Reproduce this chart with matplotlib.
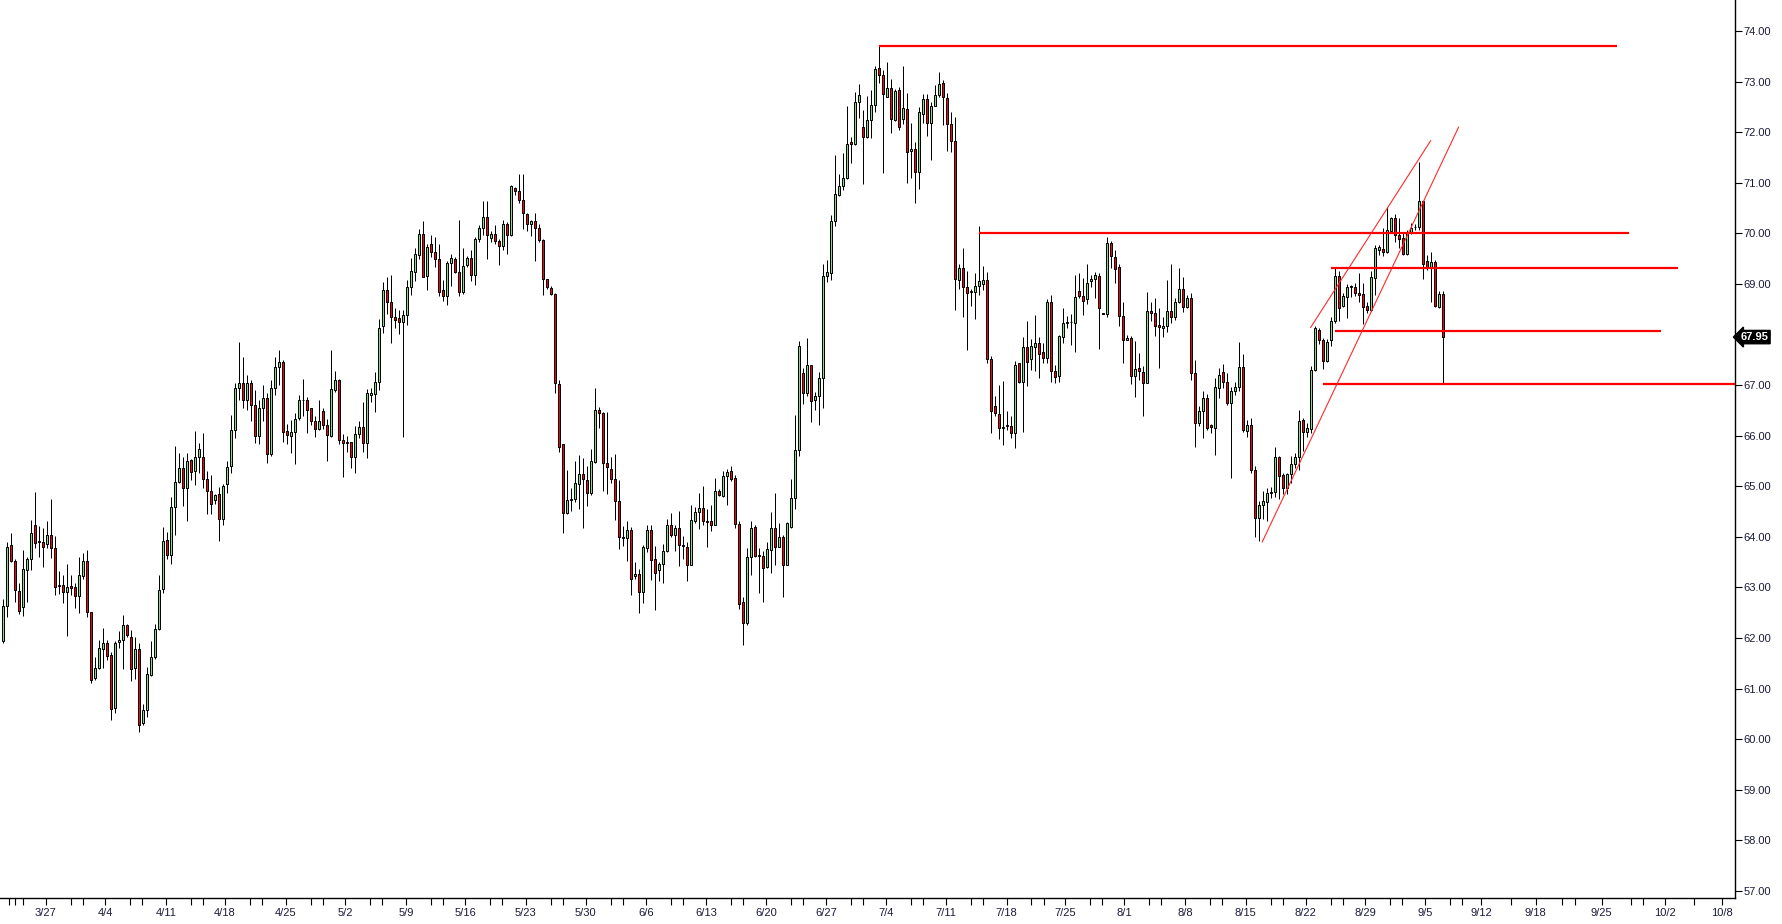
import matplotlib
matplotlib.use("Agg")
import matplotlib.pyplot as plt
import numpy as np

plt.rcParams['font.family'] = ['Liberation Sans', 'DejaVu Sans']

# 8-hour candles, oldest first
opens = [
    61.95, 62.64, 63.83, 63.53, 62.94, 62.61, 63.34, 63.56, 64.23, 63.90,
    63.89, 63.85, 64.03, 63.79, 63.02, 63.05, 62.92, 63.02, 63.00, 62.84,
    63.23, 63.52, 62.51, 61.22, 61.40, 61.79, 61.91, 61.66, 60.61, 61.93,
    61.97, 62.25, 62.03, 61.40, 61.78, 60.33, 60.57, 61.27, 61.63, 62.17,
    62.97, 63.93, 63.65, 64.60, 65.08, 65.37, 64.97, 65.52, 65.31, 65.58,
    65.57, 65.14, 64.91, 64.73, 64.84, 64.35, 65.04, 65.41, 66.11, 66.95,
    67.05, 66.70, 67.05, 66.60, 66.00, 66.55, 66.75, 65.63, 66.95, 67.35,
    67.45, 66.09, 65.99, 66.08, 66.36, 66.70, 66.70, 66.54, 66.30, 66.13,
    66.49, 66.22, 66.00, 66.90, 67.10, 65.92, 65.86, 65.87, 65.57, 66.03,
    66.17, 65.85, 66.81, 66.82, 67.07, 68.17, 68.89, 68.65, 68.35, 68.32,
    68.25, 68.39, 68.93, 69.23, 69.57, 69.99, 69.15, 69.79, 69.63, 69.49,
    68.88, 68.77, 69.41, 69.49, 69.24, 68.84, 69.37, 69.51, 69.17, 69.88,
    70.10, 70.32, 69.90, 69.99, 69.85, 69.76, 70.18, 69.96, 70.90, 70.83,
    70.66, 70.38, 70.18, 70.24, 70.10, 69.86, 69.10, 68.92, 68.81, 67.02,
    65.83, 64.47, 64.72, 64.75, 65.05, 65.24, 65.13, 64.86, 65.49, 66.51,
    66.45, 65.47, 65.34, 65.14, 64.71, 64.00, 63.97, 64.13, 63.22, 63.26,
    62.91, 63.78, 64.13, 63.57, 63.34, 63.46, 63.73, 64.24, 64.03, 64.18,
    63.84, 63.81, 63.44, 64.32, 64.50, 64.57, 64.31, 64.31, 64.23, 64.90,
    64.80, 65.21, 65.31, 65.17, 64.26, 62.72, 62.30, 63.61, 64.20, 63.63,
    63.62, 63.40, 63.75, 64.17, 63.80, 64.00, 63.45, 64.19, 64.76, 65.71,
    67.24, 66.84, 67.40, 66.70, 66.78, 67.15, 69.15, 69.22, 70.24, 70.76,
    70.93, 71.09, 71.80, 71.76, 72.59, 72.10, 71.91, 72.25, 72.54, 73.26,
    73.14, 72.70, 72.87, 72.25, 72.83, 72.27, 72.45, 71.62, 71.67, 71.22,
    72.36, 72.66, 72.18, 72.51, 72.74, 72.98, 72.67, 72.16, 71.83, 69.07,
    69.31, 68.93, 68.85, 68.85, 68.95, 68.99, 69.08, 67.51, 66.59, 66.42,
    66.16, 66.19, 66.20, 66.05, 67.43, 67.07, 67.75, 67.51, 67.76, 67.83,
    67.65, 67.53, 68.64, 67.28, 67.19, 67.96, 68.23, 68.24, 68.22, 68.86,
    68.77, 68.70, 69.05, 69.09, 69.15, 68.42, 68.40, 69.80, 69.53, 69.33,
    68.37, 67.90, 67.94, 67.19, 67.33, 67.25, 67.05, 68.47, 68.42, 68.19,
    68.12, 68.16, 68.47, 68.35, 68.65, 68.91, 68.55, 68.73, 67.23, 66.26,
    66.48, 66.74, 66.21, 66.15, 66.94, 67.25, 67.06, 66.65, 66.89, 66.96,
    67.36, 66.09, 66.22, 65.33, 64.37, 64.64, 64.68, 64.86, 64.88, 65.57,
    65.22, 64.97, 65.24, 65.44, 65.57, 66.31, 66.08, 66.13, 67.29, 68.09,
    67.90, 67.48, 67.89, 68.26, 69.16, 68.56, 68.75, 68.94, 68.93, 68.83,
    68.80, 68.56, 68.49, 69.12, 69.67, 69.69, 69.64, 70.05, 70.30, 69.97,
    69.91, 69.59, 70.00, 70.12, 70.12, 70.63, 69.46, 69.34, 69.43, 68.55,
    68.80,
]
highs = [
    62.77, 63.89, 64.07, 63.56, 63.08, 63.75, 63.60, 64.33, 64.89, 64.21,
    64.18, 64.31, 64.75, 64.02, 63.33, 63.25, 63.46, 63.25, 63.08, 63.60,
    63.69, 63.75, 62.52, 61.62, 61.96, 62.19, 61.96, 61.72, 61.94, 62.13,
    62.46, 62.28, 62.15, 62.03, 61.90, 60.69, 61.42, 61.94, 62.28, 63.25,
    64.19, 64.10, 64.78, 65.80, 65.65, 65.57, 65.65, 65.53, 66.09, 65.86,
    66.06, 65.30, 65.22, 64.85, 64.99, 65.04, 65.50, 66.40, 67.05, 67.85,
    67.55, 67.20, 67.10, 66.90, 66.70, 67.00, 66.85, 67.10, 67.55, 67.70,
    67.50, 66.24, 66.31, 66.44, 66.80, 67.12, 66.76, 66.54, 66.38, 66.71,
    66.54, 66.34, 67.69, 67.27, 67.12, 66.03, 65.99, 65.88, 66.20, 66.29,
    66.67, 66.92, 66.94, 67.25, 68.31, 69.04, 69.13, 69.18, 68.52, 68.49,
    68.49, 69.08, 69.51, 69.72, 70.08, 70.24, 69.79, 69.97, 69.93, 69.79,
    69.08, 69.46, 69.60, 69.54, 70.26, 69.72, 69.55, 69.68, 69.93, 70.16,
    70.63, 70.63, 70.05, 70.17, 69.89, 70.26, 70.23, 70.96, 70.91, 71.17,
    71.17, 70.40, 70.26, 70.40, 70.18, 69.88, 69.10, 68.95, 68.83, 67.10,
    65.83, 65.32, 64.96, 65.51, 65.62, 65.55, 65.41, 65.74, 66.95, 66.57,
    66.46, 66.46, 65.58, 65.63, 65.13, 64.21, 64.32, 64.20, 63.51, 63.36,
    63.84, 64.23, 64.23, 63.82, 63.51, 63.86, 64.36, 64.47, 64.24, 64.51,
    64.01, 63.90, 64.63, 64.59, 64.86, 65.00, 64.55, 64.63, 65.17, 64.94,
    65.31, 65.34, 65.40, 65.23, 64.32, 62.82, 63.78, 64.32, 64.24, 63.78,
    63.72, 63.90, 64.49, 64.86, 64.28, 64.03, 64.30, 65.15, 66.41, 67.87,
    67.33, 67.93, 67.40, 66.87, 67.26, 69.40, 69.47, 70.36, 71.55, 71.17,
    71.59, 72.52, 71.91, 72.80, 72.95, 72.43, 72.72, 72.83, 73.31, 73.70,
    73.23, 73.38, 73.06, 72.85, 72.89, 73.30, 72.78, 72.18, 71.80, 72.49,
    72.75, 72.75, 72.60, 72.93, 73.18, 73.03, 72.77, 72.39, 72.30, 69.39,
    69.72, 69.26, 68.91, 69.21, 70.15, 69.36, 69.24, 67.58, 66.79, 67.00,
    67.08, 66.49, 66.39, 67.48, 67.44, 67.96, 68.27, 67.91, 68.39, 67.96,
    67.83, 68.70, 68.78, 67.40, 68.00, 68.53, 68.37, 68.40, 69.18, 69.21,
    69.11, 69.39, 69.18, 69.24, 69.21, 68.43, 69.92, 69.84, 69.68, 69.39,
    68.65, 67.99, 67.97, 67.88, 67.63, 67.38, 68.85, 68.64, 68.72, 68.52,
    68.35, 69.08, 69.39, 68.72, 69.31, 69.13, 68.78, 68.83, 67.50, 66.59,
    66.89, 66.83, 66.23, 67.15, 67.33, 67.41, 67.23, 66.96, 67.06, 67.85,
    67.61, 66.32, 66.36, 65.41, 64.71, 64.91, 64.96, 64.99, 65.78, 65.59,
    65.26, 65.27, 65.59, 65.65, 66.51, 66.36, 66.25, 67.37, 68.16, 68.12,
    67.93, 67.91, 68.35, 69.34, 69.26, 68.82, 69.00, 68.98, 69.01, 69.22,
    69.01, 68.65, 69.26, 69.77, 69.77, 70.10, 70.52, 70.33, 70.38, 70.30,
    70.00, 70.07, 70.20, 70.18, 71.42, 70.64, 69.57, 69.63, 69.47, 68.87,
    68.87,
]
lows = [
    61.91, 62.42, 63.51, 62.72, 62.47, 62.44, 62.72, 63.35, 63.79, 63.61,
    63.41, 63.79, 63.59, 62.85, 62.88, 62.70, 62.05, 62.86, 62.60, 62.49,
    63.16, 62.42, 61.12, 61.18, 61.38, 61.41, 61.57, 60.39, 60.51, 61.81,
    61.39, 62.03, 61.16, 61.20, 60.14, 60.28, 60.43, 61.25, 61.58, 62.15,
    62.90, 63.56, 63.46, 64.04, 65.06, 64.61, 64.32, 65.12, 65.02, 65.27,
    64.97, 64.45, 64.45, 64.66, 63.92, 64.23, 64.87, 65.27, 65.95, 66.70,
    66.55, 66.50, 66.30, 65.86, 65.83, 66.30, 65.47, 65.60, 66.80, 67.00,
    65.88, 65.83, 65.65, 65.44, 66.31, 66.38, 66.05, 66.21, 65.98, 66.11,
    66.13, 65.51, 65.98, 66.87, 65.84, 65.19, 65.68, 65.37, 65.26, 65.96,
    65.68, 65.55, 66.67, 66.46, 66.90, 68.04, 68.41, 67.84, 68.12, 68.01,
    65.97, 68.19, 68.78, 69.06, 69.49, 69.13, 68.89, 69.54, 69.34, 68.77,
    68.67, 68.59, 68.96, 69.22, 68.76, 68.81, 69.34, 69.06, 68.98, 69.82,
    69.97, 69.49, 69.83, 69.79, 69.37, 69.68, 69.59, 69.95, 70.76, 70.61,
    70.08, 70.05, 69.95, 69.46, 69.82, 68.78, 68.91, 68.79, 66.84, 65.68,
    64.07, 64.45, 64.52, 64.68, 64.56, 64.18, 64.61, 64.82, 65.47, 66.15,
    64.90, 64.84, 65.07, 64.34, 63.77, 63.82, 63.53, 62.86, 63.17, 62.49,
    62.69, 63.71, 63.15, 62.55, 63.13, 63.09, 63.71, 64.00, 63.72, 63.42,
    63.57, 63.13, 63.44, 64.28, 64.15, 64.24, 63.80, 64.11, 64.23, 64.80,
    64.78, 64.63, 65.11, 64.17, 62.57, 61.87, 62.25, 63.25, 63.61, 62.90,
    62.72, 63.38, 63.28, 63.44, 63.80, 62.82, 63.44, 64.18, 64.55, 65.59,
    66.63, 66.78, 66.27, 66.51, 66.21, 66.55, 69.03, 69.07, 70.15, 70.73,
    70.86, 71.07, 71.40, 71.75, 72.29, 70.98, 71.88, 71.89, 72.39, 72.97,
    71.20, 72.69, 71.98, 72.23, 72.05, 72.16, 71.00, 71.10, 70.61, 70.88,
    72.18, 71.93, 71.46, 72.51, 72.70, 72.14, 71.63, 71.61, 68.48, 68.91,
    68.35, 67.69, 68.56, 68.31, 68.78, 68.88, 67.43, 66.06, 66.38, 65.94,
    65.82, 66.11, 65.96, 65.76, 67.05, 66.08, 66.98, 67.30, 67.28, 67.15,
    67.43, 67.44, 67.07, 67.04, 67.07, 67.84, 68.12, 67.79, 67.66, 68.73,
    68.39, 68.60, 68.93, 68.73, 67.71, 68.40, 68.35, 69.31, 69.01, 68.17,
    67.43, 67.89, 67.02, 66.77, 67.10, 66.38, 67.05, 68.27, 67.97, 67.33,
    67.96, 68.06, 68.22, 68.29, 68.62, 68.45, 68.53, 67.11, 65.78, 66.19,
    65.96, 66.11, 66.05, 65.61, 66.75, 66.95, 66.61, 65.17, 66.80, 66.89,
    66.08, 65.98, 65.27, 63.99, 63.91, 64.35, 64.32, 64.76, 64.78, 64.74,
    64.85, 64.85, 65.06, 65.36, 65.32, 65.70, 65.98, 66.05, 67.28, 67.81,
    67.32, 67.46, 67.77, 68.22, 68.26, 68.55, 68.33, 68.75, 68.76, 68.65,
    68.21, 68.42, 68.47, 68.78, 69.57, 69.55, 69.62, 70.00, 69.82, 69.72,
    69.57, 69.57, 69.99, 70.07, 70.07, 69.09, 69.28, 68.65, 68.55, 68.53,
    67.02,
]
closes = [
    62.64, 63.81, 63.53, 62.96, 62.54, 63.36, 63.56, 64.07, 63.87, 63.91,
    63.81, 64.03, 63.79, 63.00, 63.04, 62.92, 63.00, 62.99, 62.84, 63.24,
    63.52, 62.51, 61.18, 61.40, 61.80, 61.91, 61.64, 60.59, 61.90, 61.97,
    62.25, 62.07, 61.38, 61.78, 60.29, 60.57, 61.28, 61.62, 62.17, 62.96,
    63.91, 63.65, 64.60, 65.08, 65.37, 64.97, 65.50, 65.29, 65.57, 65.73,
    65.14, 64.91, 64.66, 64.82, 64.36, 65.01, 65.39, 66.11, 66.95, 67.05,
    66.70, 67.05, 66.60, 66.00, 66.55, 66.75, 65.63, 66.95, 67.35, 67.45,
    66.07, 66.01, 66.08, 66.34, 66.71, 66.70, 66.50, 66.30, 66.13, 66.30,
    66.22, 66.01, 66.92, 67.11, 65.92, 65.85, 65.87, 65.57, 66.03, 66.17,
    65.85, 66.84, 66.84, 67.06, 68.12, 68.89, 68.65, 68.34, 68.29, 68.25,
    68.38, 68.94, 69.25, 69.59, 69.99, 69.14, 69.74, 69.63, 69.49, 68.85,
    68.77, 69.41, 69.51, 69.24, 68.85, 69.35, 69.51, 69.17, 69.89, 70.10,
    70.32, 69.96, 69.99, 69.84, 69.75, 70.18, 69.96, 70.94, 70.83, 70.66,
    70.40, 70.18, 70.24, 70.10, 69.86, 69.09, 68.93, 68.81, 67.04, 65.77,
    64.47, 64.73, 64.75, 65.06, 65.24, 65.14, 64.86, 65.50, 66.51, 66.44,
    65.47, 65.38, 65.14, 64.71, 64.00, 63.97, 64.13, 63.17, 63.27, 62.91,
    63.80, 64.13, 63.55, 63.28, 63.46, 63.72, 64.23, 64.03, 64.18, 63.84,
    63.82, 63.44, 64.34, 64.50, 64.57, 64.31, 64.30, 64.23, 64.90, 64.82,
    65.21, 65.28, 65.15, 64.25, 62.67, 62.30, 63.60, 64.17, 63.63, 63.62,
    63.38, 63.76, 64.17, 63.80, 64.00, 63.45, 64.28, 64.76, 65.72, 67.77,
    66.84, 67.40, 66.68, 66.78, 67.14, 69.15, 69.23, 70.24, 70.77, 70.93,
    71.09, 71.76, 71.76, 72.60, 72.73, 71.91, 72.25, 72.54, 73.24, 73.14,
    72.75, 72.87, 72.27, 72.81, 72.11, 72.47, 71.60, 71.66, 71.21, 72.39,
    72.66, 72.18, 72.51, 72.74, 72.95, 72.69, 72.16, 71.83, 69.09, 69.31,
    68.93, 68.83, 68.87, 68.95, 69.06, 69.08, 67.51, 66.48, 66.44, 66.16,
    66.17, 66.20, 66.05, 67.40, 67.07, 67.75, 67.46, 67.77, 67.83, 67.61,
    67.53, 68.64, 67.27, 67.17, 67.97, 68.22, 68.24, 68.24, 68.74, 68.77,
    68.67, 69.01, 69.10, 69.17, 68.52, 68.41, 69.80, 69.56, 69.30, 68.37,
    67.90, 67.94, 67.19, 67.31, 67.27, 67.05, 68.47, 68.42, 68.17, 68.14,
    68.17, 68.47, 68.35, 68.65, 68.91, 68.55, 68.73, 67.23, 66.25, 66.49,
    66.74, 66.16, 66.17, 66.96, 67.21, 67.06, 66.64, 66.88, 66.96, 67.35,
    66.11, 66.22, 65.33, 64.37, 64.64, 64.70, 64.86, 64.89, 65.57, 65.21,
    64.97, 65.24, 65.45, 65.57, 66.30, 66.08, 66.15, 67.30, 68.12, 67.89,
    67.48, 67.86, 68.27, 69.16, 68.53, 68.76, 68.93, 68.95, 68.83, 68.78,
    68.54, 68.49, 69.14, 69.72, 69.74, 69.64, 70.07, 70.30, 69.97, 69.88,
    69.59, 70.00, 70.10, 70.13, 70.63, 69.39, 69.34, 69.43, 68.56, 68.80,
    67.96,
]

date_labels = ["3/27", "4/4", "4/11", "4/18", "4/25", "5/2", "5/9", "5/16",
               "5/23", "5/30", "6/6", "6/13", "6/20", "6/27", "7/4", "7/11",
               "7/18", "7/25", "8/1", "8/8", "8/15", "8/22", "8/29", "9/5",
               "9/12", "9/18", "9/25", "10/2", "10/8"]
# bar index under each label (future dates continue past the last candle)
date_pos = [10.8, 25.6, 40.8, 55.6, 70.8, 85.6, 100.8, 115.6, 130.8, 145.8,
            160.8, 175.8, 190.8, 205.8, 220.8, 235.8, 251.0, 265.6, 280.4,
            295.6, 310.8, 325.8, 340.6, 355.6, 369.6, 383.3, 399.8, 415.6, 429.8]

# drawn support / resistance lines: price, first bar, last bar
level_price = [73.70, 70.00, 69.31, 68.07, 67.02]
level_from = [219, 244, 332, 333, 330]
level_to = [403.6, 406.6, 418.8, 414.7, 434]
# rising channel lines (bar, price) end points
chan_hi_x, chan_hi_y = [327.0, 357.0], [68.14, 71.83]
chan_lo_x, chan_lo_y = [314.9, 364.0], [63.90, 72.10]
last_price = 67.95

W, H = 1782, 924
fig = plt.figure(figsize=(W / 100, H / 100), dpi=100)
ax = fig.add_axes([0, 1 - 898 / H, 1735 / W, 898 / H])

n = len(closes)
x = np.arange(n)
o = np.array(opens); c = np.array(closes)
hi = np.array(highs); lo = np.array(lows)
up = c >= o
bot = np.minimum(o, c)
hgt = np.maximum(np.abs(c - o), 0.015)
cols = np.where(up, '#7fe07f', '#ff0000')

px = 0.72
ax.vlines(x, lo, hi, color='black', lw=px, zorder=2)
ax.bar(x, hgt, bottom=bot, width=0.55, color=cols, edgecolor='black',
       linewidth=px, zorder=3)

for p, a, b in zip(level_price, level_from, level_to):
    ax.plot([a, b], [p, p], color='#ff0000', lw=1.6, zorder=4,
            solid_capstyle='butt')
ax.plot(chan_hi_x, chan_hi_y, color='#ff2a2a', lw=0.8, zorder=4)
ax.plot(chan_lo_x, chan_lo_y, color='#ff2a2a', lw=0.8, zorder=4)

ax.set_xlim(-0.675, 433.1)
ax.set_ylim(56.862, 74.613)

for s in ['left', 'top']:
    ax.spines[s].set_visible(False)
for s in ['right', 'bottom']:
    ax.spines[s].set_color('black')
    ax.spines[s].set_linewidth(1.0)

ax.yaxis.tick_right()
ax.set_yticks(np.arange(57, 75, 1.0))
ax.set_yticklabels(["%.2f" % v for v in np.arange(57, 75, 1.0)])
ax.tick_params(axis='y', direction='out', length=5, width=0.8, pad=1,
               labelsize=8, colors='black', labelcolor='#1a1a3a')

ax.set_xticks(date_pos)
ax.set_xticklabels(date_labels)
minor = [1.5, 3.2, 5.1]
for p in date_pos[:24]:
    minor += [p + 6.2, p + 9.3]
minor += [377.0, 389.8, 393.0, 407.0, 410.2, 422.8]
ax.set_xticks(minor, minor=True)
ax.tick_params(axis='x', which='both', direction='out', length=5, width=0.8,
               pad=2, labelsize=8, colors='black', labelcolor='#1a1a3a')

ax.annotate("%.2f" % last_price, xy=(1.0, last_price),
            xycoords=('axes fraction', 'data'), xytext=(4, 0),
            textcoords='offset points', ha='left', va='center',
            fontsize=8, color='white', fontweight='bold',
            bbox=dict(boxstyle='larrow,pad=0.15', fc='black', ec='black'),
            annotation_clip=False)

fig.savefig("out.png", dpi=100)
